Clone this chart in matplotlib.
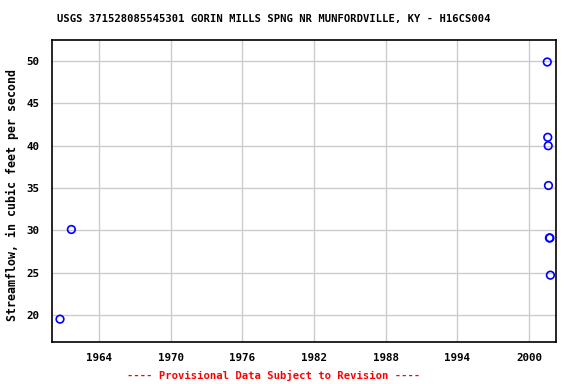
import matplotlib
matplotlib.use("Agg")
import matplotlib.pyplot as plt

years = [1960.75, 1961.7, 2001.52, 2001.56, 2001.6, 2001.62, 2001.7, 2001.74, 2001.78]
flow = [19.5, 30.1, 49.9, 41.0, 40.0, 35.3, 29.1, 29.1, 24.7]
xticks = [1964, 1970, 1976, 1982, 1988, 1994, 2000]
yticks = [20, 25, 30, 35, 40, 45, 50]

plt.rcParams['font.family'] = ['DejaVu Sans Mono']
plt.rcParams['font.weight'] = 'bold'

fig = plt.figure(figsize=(5.76, 3.84), dpi=100)
ax = fig.add_axes([52/576, 1-342/384, (556-52)/576, (342-40)/384])
ax.scatter(years, flow, s=30, facecolors='none', edgecolors='blue', linewidths=1.2, zorder=3)
ax.set_xlim(1960.08, 2002.25)
ax.set_ylim(16.8, 52.5)
ax.set_xticks(xticks)
ax.set_yticks(yticks)
ax.grid(True, color='#cccccc', linewidth=1)
ax.set_axisbelow(True)
ax.tick_params(length=0, labelsize=7.8)
ax.tick_params(axis='x', pad=8)
ax.tick_params(axis='y', pad=9)
for lbl in ax.get_xticklabels() + ax.get_yticklabels():
    lbl.set_fontweight('bold')
for s in ax.spines.values():
    s.set_linewidth(1.2)
fig.text(12/576, 1-195/384, 'Streamflow, in cubic feet per second', fontsize=8.4,
         fontweight='bold', rotation=90, ha='center', va='center')
fig.text(274/576, 1-19/384,
         'USGS 371528085545301 GORIN MILLS SPNG NR MUNFORDVILLE, KY - H16CS004',
         fontsize=7.6, fontweight='bold', ha='center', va='center')
fig.text(274/576, 1-375/384, '---- Provisional Data Subject to Revision ----',
         color='red', fontsize=7.6, fontweight='bold', ha='center', va='center')
fig.savefig('out.png', dpi=100)
